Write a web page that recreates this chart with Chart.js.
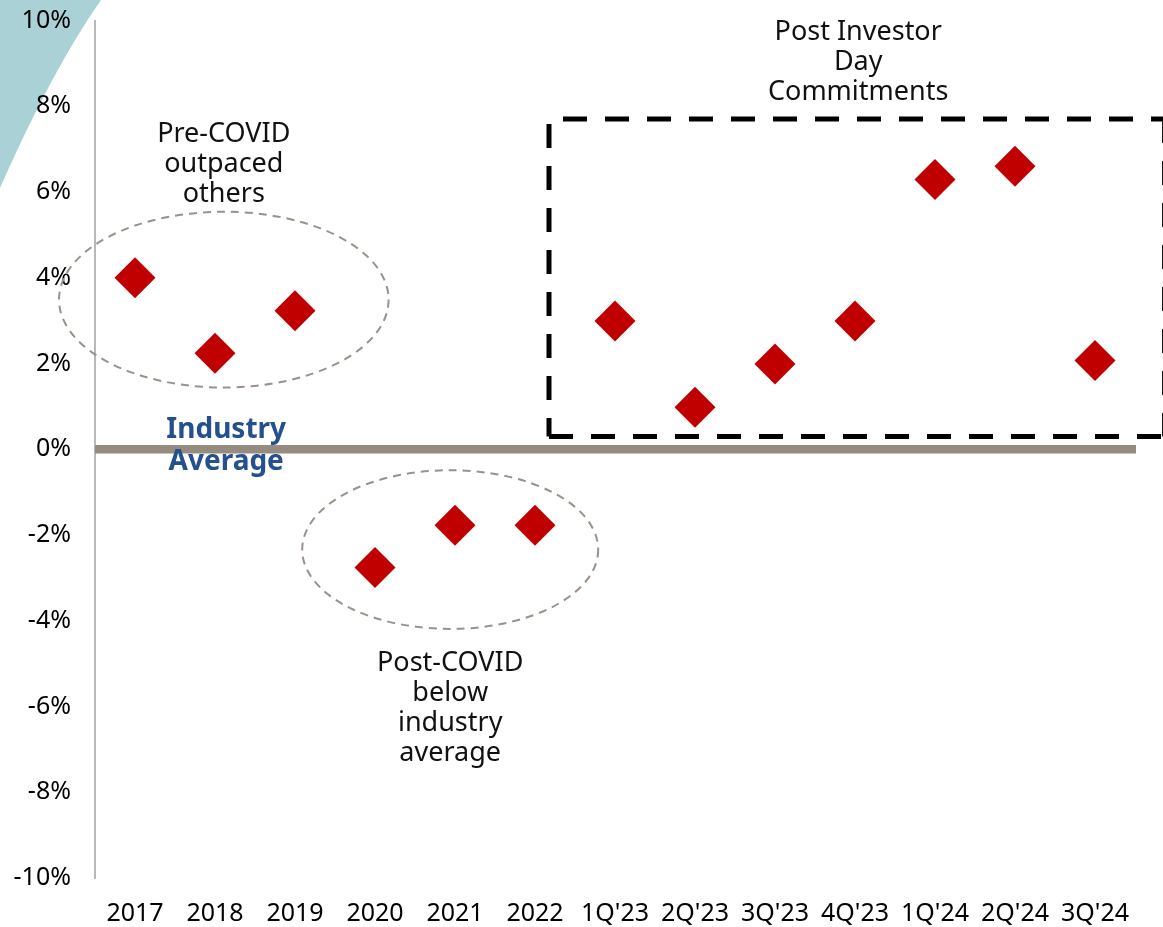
<!DOCTYPE html>
<html>
<head>
<meta charset="utf-8">
<script src="https://cdn.jsdelivr.net/npm/chart.js@4/dist/chart.umd.min.js"></script>
<style>
  html, body { margin: 0; padding: 0; background: #ffffff; }
  #wrap { width: 1163px; height: 927px; position: relative; }
</style>
</head>
<body>
<div id="wrap"><canvas id="c"></canvas></div>
<script>
// ---- Data ----
const categories = ['2017', '2018', '2019', '2020', '2021', '2022', "1Q'23", "2Q'23", "3Q'23", "4Q'23", "1Q'24", "2Q'24", "3Q'24"];
const growthVsIndustry = [4.0, 2.24, 3.23, -2.76, -1.77, -1.77, 2.99, 0.98, 1.99, 2.99, 6.29, 6.60, 2.07];
const industryAverage = 0;
const yMin = -10;
const yMax = 10;
const yStep = 2;

// ---- Annotation text ----
const preCovidText = ['Pre-COVID', 'outpaced', 'others'];
const postCovidText = ['Post-COVID', 'below', 'industry', 'average'];
const investorDayText = ['Post Investor', 'Day', 'Commitments'];
const industryAvgText = ['Industry', 'Average'];

const FONT = '"Noto Sans", "Open Sans", sans-serif';

// helper: fractional category index -> pixel
function xAt(chart, idx) {
  const x = chart.scales.x;
  const p0 = x.getPixelForValue(0);
  const p1 = x.getPixelForValue(1);
  return p0 + idx * (p1 - p0);
}
function yAt(chart, v) { return chart.scales.y.getPixelForValue(v); }

const decorPlugin = {
  id: 'decor',
  beforeDraw(chart) {
    const ctx = chart.ctx;
    ctx.save();
    // teal corner decoration
    ctx.fillStyle = '#aad2d6';
    ctx.beginPath();
    ctx.moveTo(0, 0);
    ctx.lineTo(101, 0);
    ctx.quadraticCurveTo(52, 70, 0, 188);
    ctx.closePath();
    ctx.fill();
    ctx.restore();
  },
  beforeDatasetsDraw(chart) {
    const ctx = chart.ctx;
    const ca = chart.chartArea;
    ctx.save();
    // industry average line
    const y0 = yAt(chart, industryAverage);
    ctx.strokeStyle = '#958b7f';
    ctx.lineWidth = 8.5;
    ctx.beginPath();
    ctx.moveTo(ca.left, y0);
    ctx.lineTo(ca.right + 1, y0);
    ctx.stroke();

    // dashed ellipses
    const sx = xAt(chart, 1) - xAt(chart, 0);
    const sy = yAt(chart, 0) - yAt(chart, 1);
    ctx.strokeStyle = '#9a9189';
    ctx.lineWidth = 2;
    ctx.setLineDash([8, 6]);
    ctx.beginPath();
    ctx.ellipse(xAt(chart, 1.11), yAt(chart, 3.49), 2.06 * sx, 2.05 * sy, 0, 0, Math.PI * 2);
    ctx.stroke();
    ctx.beginPath();
    ctx.ellipse(xAt(chart, 3.94), yAt(chart, -2.34), 1.85 * sx, 1.85 * sy, 0, 0, Math.PI * 2);
    ctx.stroke();

    // dashed box
    ctx.strokeStyle = '#000000';
    ctx.lineWidth = 5;
    ctx.setLineDash([24, 18]);
    const bl = xAt(chart, 5.175), br = xAt(chart, 12.87);
    const bt = yAt(chart, 7.70), bb = yAt(chart, 0.30);
    ctx.beginPath(); ctx.moveTo(bl + 14, bt); ctx.lineTo(br + 2, bt); ctx.stroke();
    ctx.beginPath(); ctx.moveTo(bl, bt + 5); ctx.lineTo(bl, bb); ctx.stroke();
    ctx.beginPath(); ctx.moveTo(bl, bb); ctx.lineTo(br + 2, bb); ctx.stroke();
    ctx.beginPath(); ctx.moveTo(br, bt); ctx.lineTo(br, bb); ctx.stroke();
    ctx.setLineDash([]);

    // texts
    ctx.textAlign = 'center';
    ctx.textBaseline = 'middle';
    ctx.fillStyle = '#111111';
    ctx.font = '27px ' + FONT;
    const lh = 30 / sy; // line height in value units
    preCovidText.forEach((t, i) => ctx.fillText(t, xAt(chart, 1.11), yAt(chart, 7.35 - i * lh)));
    postCovidText.forEach((t, i) => ctx.fillText(t, xAt(chart, 3.94), yAt(chart, -5.0 - i * lh)));
    investorDayText.forEach((t, i) => ctx.fillText(t, xAt(chart, 9.04), yAt(chart, 9.72 - i * lh)));
    ctx.fillStyle = '#24508f';
    ctx.font = 'bold 28px ' + FONT;
    industryAvgText.forEach((t, i) => ctx.fillText(t, xAt(chart, 1.14), yAt(chart, 0.44 - i * (32 / sy))));
    ctx.restore();
  }
};

const yTickValues = [];
for (let v = yMin; v <= yMax; v += yStep) yTickValues.push(v);

new Chart(document.getElementById('c'), {
  type: 'line',
  data: {
    labels: categories,
    datasets: [{
      label: 'Growth vs industry',
      data: growthVsIndustry,
      showLine: false,
      pointStyle: 'rectRot',
      pointRadius: 20.5,
      pointHoverRadius: 20.5,
      pointBackgroundColor: '#c00000',
      pointBorderColor: '#c00000',
      pointBorderWidth: 0
    }]
  },
  options: {
    responsive: true,
    maintainAspectRatio: false,
    animation: false,
    layout: { padding: { top: 0, right: 28, left: 0, bottom: 0 } },
    plugins: { legend: { display: false }, tooltip: { enabled: false } },
    scales: {
      x: {
        type: 'category',
        offset: true,
        grid: { display: false, drawTicks: false },
        border: { display: false },
        ticks: {
          autoSkip: false, maxRotation: 0, minRotation: 0,
          color: '#000000', padding: 21,
          font: { family: FONT, size: 25 }
        },
        afterFit(s) { s.height = 49; }
      },
      y: {
        min: yMin, max: yMax,
        afterBuildTicks(s) { s.ticks = yTickValues.map(v => ({ value: v })); },
        grid: { display: false, drawTicks: false },
        border: { display: true, color: '#b8b8b8', width: 2 },
        ticks: {
          color: '#000000', padding: 24,
          font: { family: FONT, size: 25 },
          callback: v => v + '%'
        },
        afterFit(s) { s.width = 95; s.paddingTop = 18; s.paddingBottom = 0; }
      }
    }
  },
  plugins: [decorPlugin]
});
</script>
</body>
</html>
